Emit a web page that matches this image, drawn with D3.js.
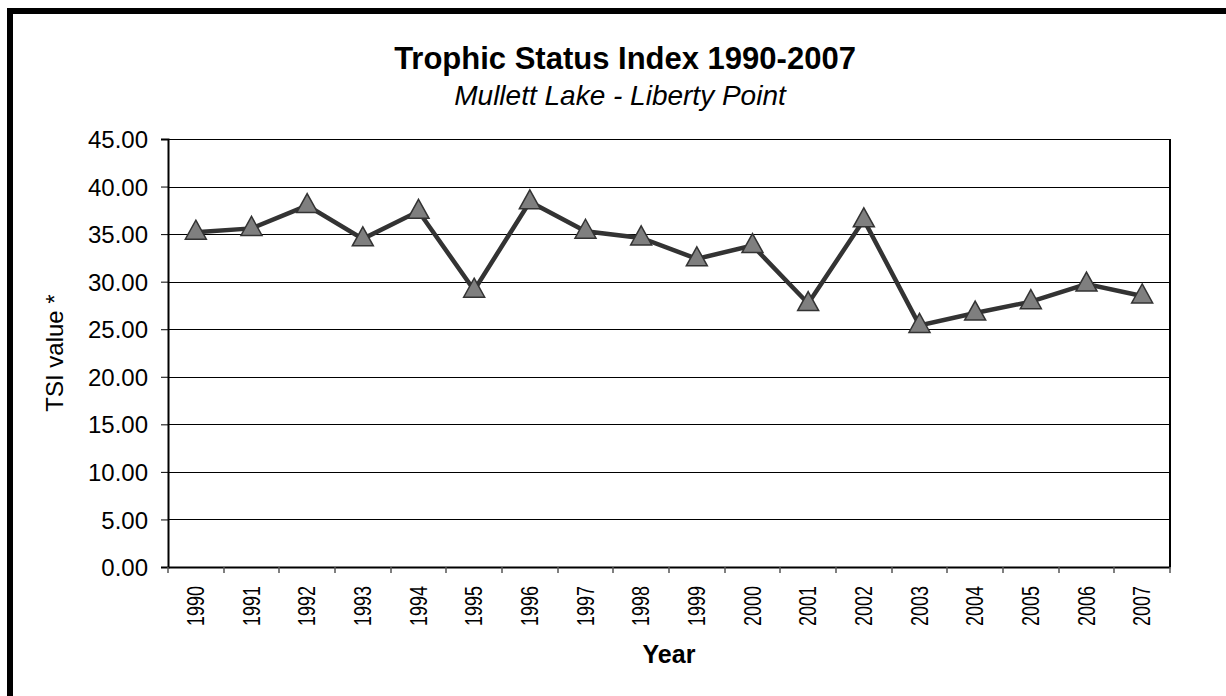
<!DOCTYPE html>
<html>
<head>
<meta charset="utf-8">
<script src="https://cdn.jsdelivr.net/npm/d3@7"></script>
<style>
    body { margin: 0; background: #fff; }
    svg { display: block; font-family: "Liberation Sans", Arial, sans-serif; }
</style>
</head>
<body>
<div id="chart"></div>
<script>
(function tsi() {

    // chart data
    const years = ["1990", "1991", "1992", "1993", "1994", "1995", "1996", "1997", "1998",
        "1999", "2000", "2001", "2002", "2003", "2004", "2005", "2006", "2007"];
    const tsiValues = [35.2, 35.6, 38.0, 34.5, 37.4, 29.1, 38.4, 35.3, 34.6,
        32.4, 33.8, 27.7, 36.5, 25.4, 26.7, 27.9, 29.75, 28.5];
    const yTicks = [0, 5, 10, 15, 20, 25, 30, 35, 40, 45];

    const WIDTH = 1226;
    const HEIGHT = 696;
    const margin = { left: 168, right: 56, top: 139, bottom: 129 };

    const svg = d3.select("#chart").append("svg")
        .attr("width", WIDTH)
        .attr("height", HEIGHT);

    // outer frame (only left and top edges visible)
    svg.append("path")
        .attr("d", "M10,696 L10,11 L1226,11")
        .attr("fill", "none")
        .attr("stroke", "#000")
        .attr("stroke-width", 6);

    const x = d3.scaleBand()
        .domain(years)
        .range([margin.left, WIDTH - margin.right]);

    const y = d3.scaleLinear()
        .domain([0, 45])
        .range([HEIGHT - margin.bottom, margin.top]);

    // gridlines
    svg.append("g")
        .selectAll("line")
        .data(yTicks.slice(1))
        .join("line")
        .attr("x1", margin.left)
        .attr("x2", WIDTH - margin.right)
        .attr("y1", d => Math.round(y(d)) + 0.5)
        .attr("y2", d => Math.round(y(d)) + 0.5)
        .attr("stroke", "#000")
        .attr("stroke-width", 1);

    // y axis
    const yAxis = svg.append("g")
        .attr("transform", `translate(${margin.left},0)`)
        .call(d3.axisLeft(y).tickValues(yTicks).tickSize(7).tickFormat(d3.format(".2f")));
    yAxis.select(".domain").attr("stroke", "#000").attr("stroke-width", 2);
    yAxis.selectAll(".tick line").attr("stroke", "#000");
    yAxis.selectAll(".tick text")
        .attr("x", -20)
        .attr("dy", "0.36em")
        .style("font-size", "24px")
        .style("font-family", "Liberation Sans, Arial, sans-serif")
        .attr("fill", "#000");

    // x axis
    const xAxis = svg.append("g")
        .attr("transform", `translate(0,${HEIGHT - margin.bottom})`)
        .call(d3.axisBottom(x).tickSize(0).tickFormat(""));
    xAxis.select(".domain").attr("stroke", "#000").attr("stroke-width", 2);
    xAxis.selectAll(".tick").remove();

    // tick marks at category boundaries
    xAxis.append("g")
        .selectAll("line")
        .data(years)
        .join("line")
        .attr("x1", d => Math.round(x(d)))
        .attr("x2", d => Math.round(x(d)))
        .attr("y1", 0)
        .attr("y2", 6)
        .attr("stroke", "#555")
        .attr("stroke-width", 1.5);
    xAxis.append("line")
        .attr("x1", WIDTH - margin.right)
        .attr("x2", WIDTH - margin.right)
        .attr("y1", 0)
        .attr("y2", 6)
        .attr("stroke", "#555")
        .attr("stroke-width", 1.5);

    // right border of plot area
    svg.append("line")
        .attr("x1", WIDTH - margin.right)
        .attr("x2", WIDTH - margin.right)
        .attr("y1", margin.top)
        .attr("y2", HEIGHT - margin.bottom)
        .attr("stroke", "#000")
        .attr("stroke-width", 2);

    // x labels, rotated
    svg.append("g")
        .selectAll("text")
        .data(years)
        .join("text")
        .attr("transform", d => `translate(${x(d) + x.bandwidth() / 2 + 8},626) rotate(-90)`)
        .attr("textLength", 40)
        .attr("lengthAdjust", "spacingAndGlyphs")
        .style("font-size", "23px")
        .attr("fill", "#000")
        .text(d => d);

    // line
    const line = d3.line()
        .x((d, i) => x(years[i]) + x.bandwidth() / 2)
        .y(d => y(d));

    svg.append("path")
        .datum(tsiValues)
        .attr("d", line)
        .attr("fill", "none")
        .attr("stroke", "#333")
        .attr("stroke-width", 4.5)
        .attr("stroke-linejoin", "miter");

    // triangle markers
    const tri = "M0,-12 L10.5,7 L-10.5,7 Z";
    svg.append("g")
        .selectAll("path")
        .data(tsiValues)
        .join("path")
        .attr("transform", (d, i) => `translate(${x(years[i]) + x.bandwidth() / 2},${y(d)})`)
        .attr("d", tri)
        .attr("fill", "#7f7f7f")
        .attr("stroke", "#333")
        .attr("stroke-width", 1.5);

    // titles
    const cx = (margin.left + WIDTH - margin.right) / 2;
    svg.append("text")
        .attr("x", 625)
        .attr("y", 69)
        .attr("text-anchor", "middle")
        .style("font-size", "31px")
        .style("font-weight", "bold")
        .text("Trophic Status Index 1990-2007");

    svg.append("text")
        .attr("x", 620)
        .attr("y", 105)
        .attr("text-anchor", "middle")
        .style("font-size", "28px")
        .style("font-style", "italic")
        .text("Mullett Lake - Liberty Point");

    svg.append("text")
        .attr("x", cx)
        .attr("y", 663)
        .attr("text-anchor", "middle")
        .style("font-size", "25px")
        .style("font-weight", "bold")
        .text("Year");

    svg.append("text")
        .attr("transform", `translate(63,353) rotate(-90)`)
        .attr("text-anchor", "middle")
        .style("font-size", "24px")
        .text("TSI value *");

})();
</script>
</body>
</html>
